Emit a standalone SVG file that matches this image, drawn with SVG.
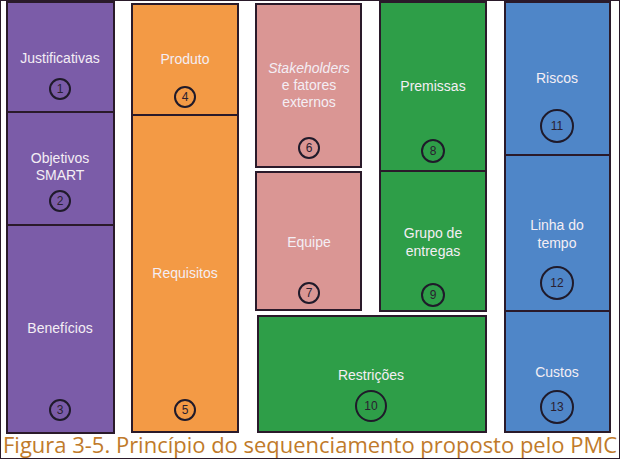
<svg xmlns="http://www.w3.org/2000/svg" width="620" height="459" viewBox="0 0 620 459">
<style>
rect{stroke:#2a1a2a;stroke-width:2}
.p{fill:#7b5ca8}.o{fill:#f39a45}.k{fill:#da9694}.g{fill:#2e9e48}.b{fill:#4f86c8}
text{font-family:"Liberation Sans",Arial,sans-serif;font-size:14px;fill:#f4eef4;text-anchor:middle}
circle{fill:none;stroke:#1f1a2a;stroke-width:2}
.n{fill:#2a2030;font-size:12px}
.cap{font-family:"Open Sans",sans-serif;font-size:21px;fill:#c07a2a;text-anchor:start}
</style>
<rect width="620" height="459" fill="#fff" stroke="none"/>
<g id="n1"><rect class="p" x="7" y="2" width="107" height="110"/><text x="60" y="63">Justificativas</text><circle cx="60" cy="89" r="10"/><text class="n" x="60" y="93">1</text></g>
<g id="n2"><rect class="p" x="7" y="112" width="107" height="113"/><text x="60" y="163">Objetivos</text><text x="60" y="180">SMART</text><circle cx="60" cy="201" r="10"/><text class="n" x="60" y="205">2</text></g>
<g id="n3"><rect class="p" x="7" y="225" width="107" height="208"/><text x="60" y="333">Benefícios</text><circle cx="60" cy="410" r="10"/><text class="n" x="60" y="414">3</text></g>
<g id="n4"><rect class="o" x="132" y="4" width="106" height="111"/><text x="185" y="64">Produto</text><circle cx="185" cy="97" r="10"/><text class="n" x="185" y="101">4</text></g>
<g id="n5"><rect class="o" x="132" y="115" width="106" height="317"/><text x="185" y="278">Requisitos</text><circle cx="185" cy="410" r="10"/><text class="n" x="185" y="414">5</text></g>
<g id="n6"><rect class="k" x="256" y="4" width="105" height="163"/><text x="309" y="73" font-style="italic">Stakeholders</text><text x="309" y="90">e fatores</text><text x="309" y="107">externos</text><circle cx="309" cy="148" r="10"/><text class="n" x="309" y="152">6</text></g>
<g id="n7"><rect class="k" x="256" y="172" width="105" height="138"/><text x="309" y="247">Equipe</text><circle cx="309" cy="293" r="10"/><text class="n" x="309" y="297">7</text></g>
<g id="n8"><rect class="g" x="380" y="2" width="106" height="169"/><text x="433" y="91">Premissas</text><circle cx="433" cy="151" r="11"/><text class="n" x="433" y="155">8</text></g>
<g id="n9"><rect class="g" x="380" y="171" width="106" height="140"/><text x="433" y="238">Grupo de</text><text x="433" y="256">entregas</text><circle cx="433" cy="295" r="11"/><text class="n" x="433" y="299">9</text></g>
<g id="n10"><rect class="g" x="258" y="316" width="228" height="116"/><text x="371" y="380">Restrições</text><circle cx="371" cy="406" r="15"/><text class="n" x="371" y="410" font-size="11">10</text></g>
<g id="n11"><rect class="b" x="505" y="2" width="105" height="153"/><text x="557" y="83">Riscos</text><circle cx="557" cy="126" r="16"/><text class="n" x="557" y="130" font-size="11">11</text></g>
<g id="n12"><rect class="b" x="505" y="155" width="105" height="156"/><text x="557" y="230">Linha do</text><text x="557" y="248">tempo</text><circle cx="557" cy="283" r="16"/><text class="n" x="557" y="287" font-size="11">12</text></g>
<g id="n13"><rect class="b" x="505" y="311" width="105" height="121"/><text x="557" y="377">Custos</text><circle cx="557" cy="407" r="16"/><text class="n" x="557" y="411" font-size="11">13</text></g>
<g id="connectors"/>
<text class="cap" x="3" y="453" textLength="614" lengthAdjust="spacingAndGlyphs">Figura 3-5. Princípio do sequenciamento proposto pelo PMC</text>
</svg>
